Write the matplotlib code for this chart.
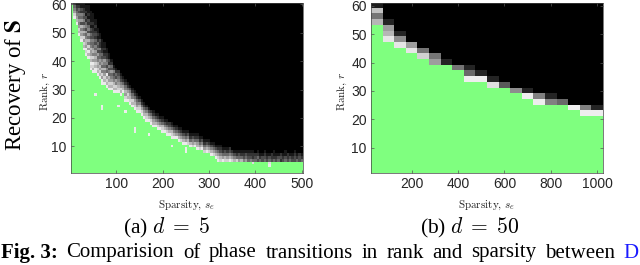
import numpy as np
import matplotlib
matplotlib.use("Agg")
import matplotlib.pyplot as plt
from matplotlib.colors import ListedColormap

# ---------------- data: panel (a) d = 5 ----------------
sparsity_a = list(range(5, 505, 5))          # 100 columns
rank_a = list(range(1, 61))                  # 60 rows
# highest rank with full recovery (green) for each sparsity column
green_top_a = [59, 54, 52, 48, 46, 43, 41, 40, 36, 35,
               35, 34, 33, 31, 31, 30, 29, 29, 28, 28,
               28, 27, 28, 25, 25, 24, 23, 22, 21, 21,
               20, 19, 18, 18, 17, 16, 16, 15, 15, 14,
               14, 13, 13, 12, 12, 12, 11, 11, 10, 10,
               10, 9, 9, 9, 8, 8, 8, 7, 7, 7,
               6, 6, 5, 4] + [4] * 36
# recovery fraction (tenths) of the cells above the green region, bottom -> top
band_a = ["6", "986542", "97654321", "978656453421", "98675736452311",
          "97868574635342211", "989677546354231211", "9796857463542312111",
          "989786675453423121111", "978968576445332212111",
          "9978675645342321211", "97867546353421211", "9786756443522311",
          "9968574653422111", "978657456321211", "97869453542211",
          "9786745352311", "97865463421", "9787543521", "978563421",
          "98765432", "97865321", "976421", "98675421", "9786421",
          "9876531", "9785421", "9876421", "9865421", "987531",
          "986421", "976421", "987531", "97531", "98642",
          "976421", "97531", "986421", "97531", "987421",
          "97531", "986421", "97532", "987421", "97531",
          "96421", "97531", "86421", "97531", "96421",
          "87531", "97421", "86531", "97421", "976421",
          "86421", "97531", "86421", "97531", "86421",
          "97531", "86421", "97531", "986421",
          "875321", "96421", "87431", "86421", "97532",
          "8642", "7531", "8421", "6431", "7421",
          "5321", "6431", "4321", "5321", "4221",
          "432", "3421", "421", "331", "4321",
          "321", "431", "322", "4211", "321",
          "431", "232", "321", "4311", "322",
          "431", "321", "3321", "421", "332", "421"]
# isolated imperfect cells inside the green region: (sparsity, rank, fraction)
specks_a = [(55, 28, 0.9), (70, 24, 0.92), (70, 23, 0.9), (105, 24, 0.9),
            (120, 22, 0.92), (140, 16, 0.9), (140, 15, 0.9), (170, 14, 0.92),
            (220, 10, 0.9), (250, 9, 0.9), (250, 8, 0.92), (395, 4, 0.85),
            (430, 4, 0.85), (430, 3, 0.9)]

# ---------------- data: panel (b) d = 50 ----------------
sparsity_b = list(range(50, 1050, 50))       # 20 columns
rank_b = list(range(2, 62, 2))               # 30 rows
green_top_b = [52, 46, 44, 42, 40, 38, 38, 36, 32, 32,
               30, 30, 28, 26, 24, 24, 24, 22, 20, 20]
band_b = [[0.7, 0.45, 0.75, 0.12], [0.88, 0.7, 0.6, 0.15], [0.88, 0.55, 0.15],
          [0.88, 0.6], [0.8, 0.45], [0.6, 0.45], [0.15], [0.45],
          [0.92, 0.4, 0.15], [0.92, 0.15], [0.85, 0.15], [0.35], [0.55],
          [0.92, 0.15], [0.92, 0.5], [0.5, 0.15], [0.4], [0.92],
          [0.92, 0.5], [0.92, 0.15]]

xticks_a = [100, 200, 300, 400, 500]
xticks_b = [200, 400, 600, 800, 1000]
yticks = [10, 20, 30, 40, 50, 60]

caption_words = ["Fig. 3:", "Comparision", "of", "phase", "transitions", "in",
                 "rank", "and", "sparsity", "between"]
caption_link = "D"

# ---------------- build matrices ----------------
def build(sparsity, ranks, gtop, bands, specks=()):
    M = np.zeros((len(ranks), len(sparsity)))
    ridx = {r: i for i, r in enumerate(ranks)}
    for j, s in enumerate(sparsity):
        for i, r in enumerate(ranks):
            if r <= gtop[j]:
                M[i, j] = 1.0
        b = bands[j]
        vals = [int(c) / 10 for c in b] if isinstance(b, str) else b
        above = [r for r in ranks if r > gtop[j]]
        for r, v in zip(above, vals):
            M[ridx[r], j] = v
    sidx = {s: j for j, s in enumerate(sparsity)}
    for s, r, v in specks:
        M[ridx[r], sidx[s]] = v
    return M

Ma = build(sparsity_a, rank_a, green_top_a, band_a, specks_a)
Mb = build(sparsity_b, rank_b, green_top_b, band_b)

grays = [(g, g, g) for g in np.linspace(0, 1, 64)]
cmap = ListedColormap(grays + [(0.5, 1.0, 0.5)])

# ---------------- figure ----------------
W, H = 640, 265
fig = plt.figure(figsize=(W / 100, H / 100), dpi=100)

def px_axes(x0, y0, x1, y1):
    return fig.add_axes([x0 / W, 1 - y1 / H, (x1 - x0) / W, (y1 - y0) / H])

ax1 = px_axes(71, 3, 303, 173.3)
ax2 = px_axes(371, 3, 603, 173.3)

ds_a = sparsity_a[1] - sparsity_a[0]
ds_b = sparsity_b[1] - sparsity_b[0]
ax1.imshow(Ma, cmap=cmap, vmin=0, vmax=1, origin="lower", aspect="auto",
           interpolation="nearest",
           extent=[sparsity_a[0] - ds_a / 2, sparsity_a[-1] + ds_a / 2, 0.5, 60.5])
ax2.imshow(Mb, cmap=cmap, vmin=0, vmax=1, origin="lower", aspect="auto",
           interpolation="nearest",
           extent=[sparsity_b[0] - ds_b / 2, sparsity_b[-1] + ds_b / 2, 1, 61])

tick_color = "#262626"
for ax, xt in ((ax1, xticks_a), (ax2, xticks_b)):
    ax.set_xticks(xt)
    ax.set_yticks(yticks)
    ax.tick_params(direction="in", length=2.5, width=0.5, top=True, right=True,
                   labelsize=10, colors="#555555", labelcolor=tick_color, pad=3)
    for lab in ax.get_xticklabels() + ax.get_yticklabels():
        lab.set_family("Liberation Sans")
    for sp in ax.spines.values():
        sp.set_linewidth(0.5)
        sp.set_color("#444444")

# axis labels (LaTeX-like serif)
lab_kw = dict(fontsize=8, family="cmr10", math_fontfamily="cm", color="#222222")
fig.text(187 / W, 1 - 205 / H, "Sparsity, $s_e$", ha="center", va="center", **lab_kw)
fig.text(487 / W, 1 - 205 / H, "Sparsity, $s_e$", ha="center", va="center", **lab_kw)
fig.text(45 / W, 1 - 91 / H, "Rank, $r$", ha="center", va="center", rotation=90, **lab_kw)
fig.text(342 / W, 1 - 91 / H, "Rank, $r$", ha="center", va="center", rotation=90, **lab_kw)

# row title
fig.text(16 / W, 1 - 85 / H, r"Recovery of $\mathbf{S}$", ha="center", va="center",
         rotation=90, fontsize=16.5, family="Liberation Serif", math_fontfamily="stix",
         color="black")

# sub-captions
cap_kw = dict(fontsize=15.5, family="Liberation Serif", math_fontfamily="cm",
              ha="center", va="center", color="black")
fig.text(166 / W, 1 - 228 / H, r"(a) $d\;=\;5$", **cap_kw)
fig.text(470 / W, 1 - 228 / H, r"(b) $d\;=\;50$", **cap_kw)

# figure caption: justified line ending at the right edge
renderer = fig.canvas.get_renderer()
cy = 1 - 253 / H
texts = []
for i, w in enumerate(caption_words):
    texts.append(fig.text(0, cy, w, ha="left", va="center", fontsize=15,
                          family="Liberation Serif",
                          fontweight="bold" if i == 0 else "normal", color="black"))
link = fig.text(0, cy, caption_link, ha="left", va="center", fontsize=15,
                family="Liberation Serif", color="#1a1aff")
widths = [t.get_window_extent(renderer=renderer).width for t in texts]
link_w = link.get_window_extent(renderer=renderer).width
x_start = 1.0
x_link = W - 1.0 - link_w
gap = (x_link - x_start - sum(widths)) / len(texts)
x = x_start
for t, wd in zip(texts, widths):
    t.set_x(x / W)
    x += wd + gap
link.set_x(x_link / W)

fig.savefig("out.png", dpi=100)
